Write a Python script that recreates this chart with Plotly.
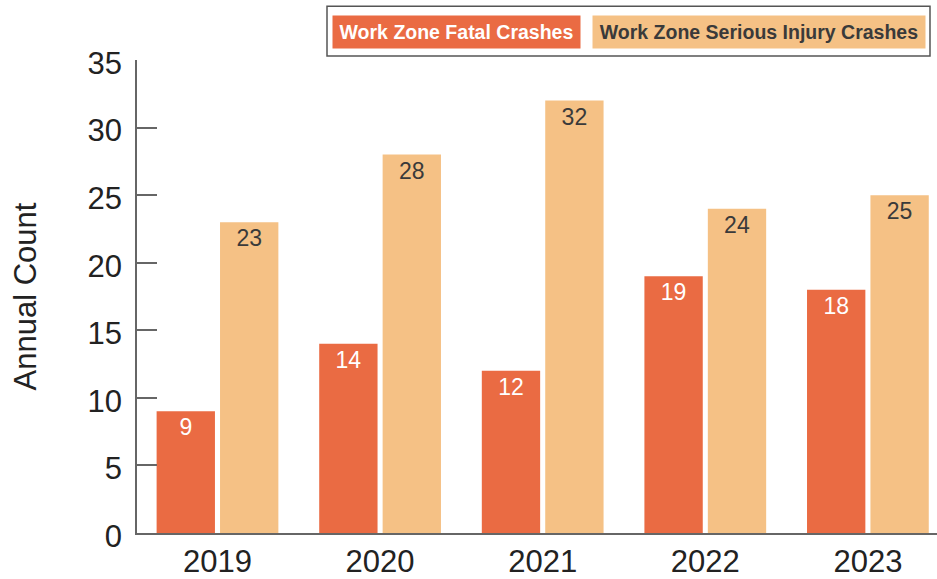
import plotly.graph_objects as go

years = ["2019", "2020", "2021", "2022", "2023"]
fatal = [9, 14, 12, 19, 18]
serious = [23, 28, 32, 24, 25]
y_ticks = [0, 5, 10, 15, 20, 25, 30, 35]

FONT = "Liberation Sans, Arial, sans-serif"
fatal_color = "#EA6B43"
serious_color = "#F5C185"

fig = go.Figure()
fig.add_trace(go.Bar(
    x=years, y=fatal, name="Work Zone Fatal Crashes",
    marker=dict(color=fatal_color, line=dict(width=0)),
    text=[str(v) for v in fatal], textposition="inside", insidetextanchor="end",
    textfont=dict(family=FONT, size=23, color="white"),
    cliponaxis=False,
))
fig.add_trace(go.Bar(
    x=years, y=serious, name="Work Zone Serious Injury Crashes",
    marker=dict(color=serious_color, line=dict(width=0)),
    text=[str(v) for v in serious], textposition="inside", insidetextanchor="end",
    textfont=dict(family=FONT, size=23, color="#3a3a3a"),
    cliponaxis=False,
))

fig.update_layout(
    width=937, height=579,
    margin=dict(l=137, r=0, t=60, b=44),
    paper_bgcolor="white", plot_bgcolor="white",
    barmode="group", bargap=0.22, bargroupgap=0.08,
    showlegend=False,
    font=dict(family=FONT, color="#222"),
)
fig.update_xaxes(
    type="category", range=[-0.495, 4.425],
    showline=True, linecolor="#666", linewidth=1.5,
    ticks="", showgrid=False, zeroline=False,
    tickfont=dict(family=FONT, size=31, color="#222"),
)
fig.update_yaxes(
    range=[0, 35], tickvals=y_ticks,
    showline=True, linecolor="#666", linewidth=1.5,
    ticks="inside", ticklen=20, tickcolor="#666", tickwidth=1.5,
    showgrid=False, zeroline=False,
    tickfont=dict(family=FONT, size=31, color="#222"),
    ticklabelstandoff=7, ticklabelshift=3,
    title=dict(text="Annual Count", font=dict(family=FONT, size=31, color="#222"), standoff=42),
)

# custom legend box
fig.add_shape(type="rect", xref="paper", yref="paper",
              x0=(327 - 137) / 800, x1=(930 - 137) / 800,
              y0=(535 - 56) / 475, y1=(535 - 6) / 475,
              line=dict(color="#555", width=1.5), fillcolor="white", layer="above")
fig.add_annotation(xref="paper", yref="paper", x=(456.5 - 137) / 800, y=(535 - 32) / 475,
                   text="<b>Work Zone Fatal Crashes</b>", showarrow=False,
                   font=dict(family=FONT, size=19.5, color="white"),
                   bgcolor=fatal_color, width=239, height=24, borderpad=4,
                   xanchor="center", yanchor="middle")
fig.add_annotation(xref="paper", yref="paper", x=(759 - 137) / 800, y=(535 - 32) / 475,
                   text="<b>Work Zone Serious Injury Crashes</b>", showarrow=False,
                   font=dict(family=FONT, size=19.5, color="#3a3a3a"),
                   bgcolor=serious_color, width=324, height=24, borderpad=4,
                   xanchor="center", yanchor="middle")

fig.write_html("out.html", config={"displayModeBar": False},
               post_script="document.body.style.margin='0';document.body.style.overflow='hidden';")
